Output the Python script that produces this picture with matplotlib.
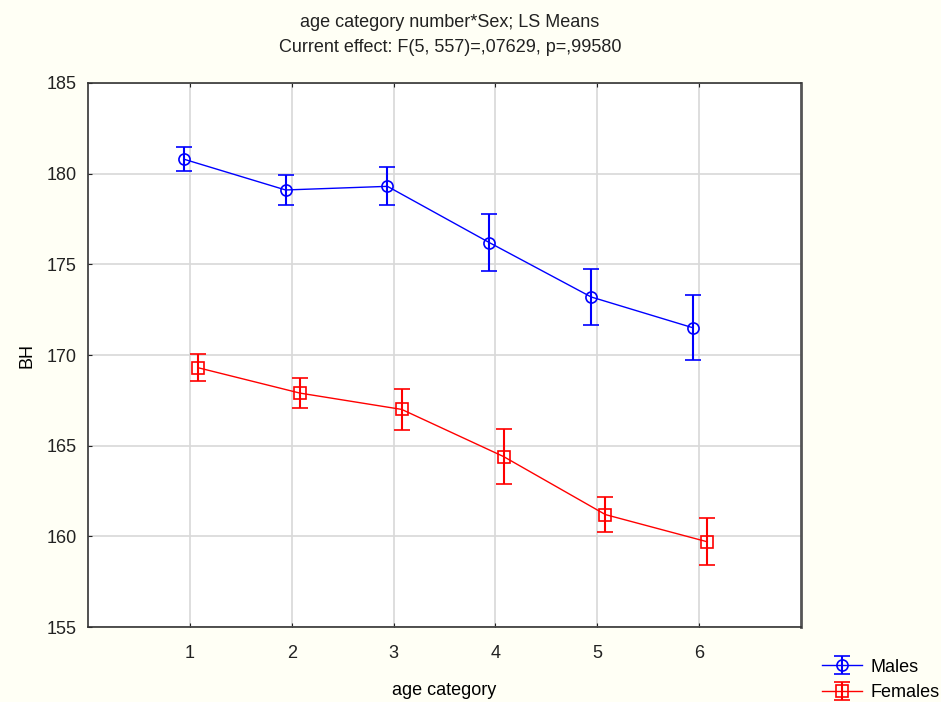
import numpy as np
import matplotlib.pyplot as plt

categories = [1, 2, 3, 4, 5, 6]
males = [180.8, 179.1, 179.3, 176.2, 173.2, 171.5]
males_err = [0.65, 0.85, 1.05, 1.55, 1.55, 1.8]
females = [169.3, 167.9, 167.0, 164.4, 161.2, 159.7]
females_err = [0.75, 0.85, 1.15, 1.5, 0.95, 1.3]

plt.rcParams['font.family'] = ['Liberation Sans', 'DejaVu Sans']

fig = plt.figure(figsize=(9.41, 7.02), dpi=100, facecolor='#fffff5')
ax = fig.add_axes([0.0935, 0.1068, 0.7577, 0.775])
ax.set_facecolor('white')

x = np.array(categories, dtype=float)
ax.errorbar(x - 0.06, males, yerr=males_err, color='#0000ff', lw=1,
            marker='o', ms=8, mfc='none', mew=1.2, capsize=6, capthick=1.5,
            elinewidth=1.5, label='Males')
ax.errorbar(x + 0.08, females, yerr=females_err, color='#ff0000', lw=1,
            marker='s', ms=8, mfc='none', mew=1.2, capsize=6, capthick=1.5,
            elinewidth=1.5, label='Females')

ax.set_xlim(0, 7)
ax.set_ylim(155, 185)
ax.set_xticks(categories)
ax.set_yticks(np.arange(155, 186, 5))
ax.grid(True, color='#d8d8d8', lw=1.2)
ax.set_axisbelow(True)
ax.tick_params(direction='in', length=3, labelsize=13, colors='#222222',
               top=True, right=False, pad=13)
ax.tick_params(axis='y', pad=8)
for s in ax.spines.values():
    s.set_color('#333333')
    s.set_linewidth(1.2)
ax.spines['right'].set_linewidth(2)
ax.spines['right'].set_color('#555555')

ax.set_xlabel('age category', fontsize=13, labelpad=14)
ax.set_ylabel('BH', fontsize=13, labelpad=8)

fig.text(0.478, 0.968, 'age category number*Sex; LS Means', ha='center',
         va='center', fontsize=13, color='#222222')
fig.text(0.478, 0.933, 'Current effect: F(5, 557)=,07629, p=,99580',
         ha='center', va='center', fontsize=13, color='#222222')

fig.legend(loc='lower left', bbox_to_anchor=(0.858, -0.019), frameon=False,
           fontsize=13, handlelength=2.2, borderpad=0.3, labelspacing=0.45,
           handletextpad=0.5)

fig.savefig('out.png', dpi=100, facecolor=fig.get_facecolor())
